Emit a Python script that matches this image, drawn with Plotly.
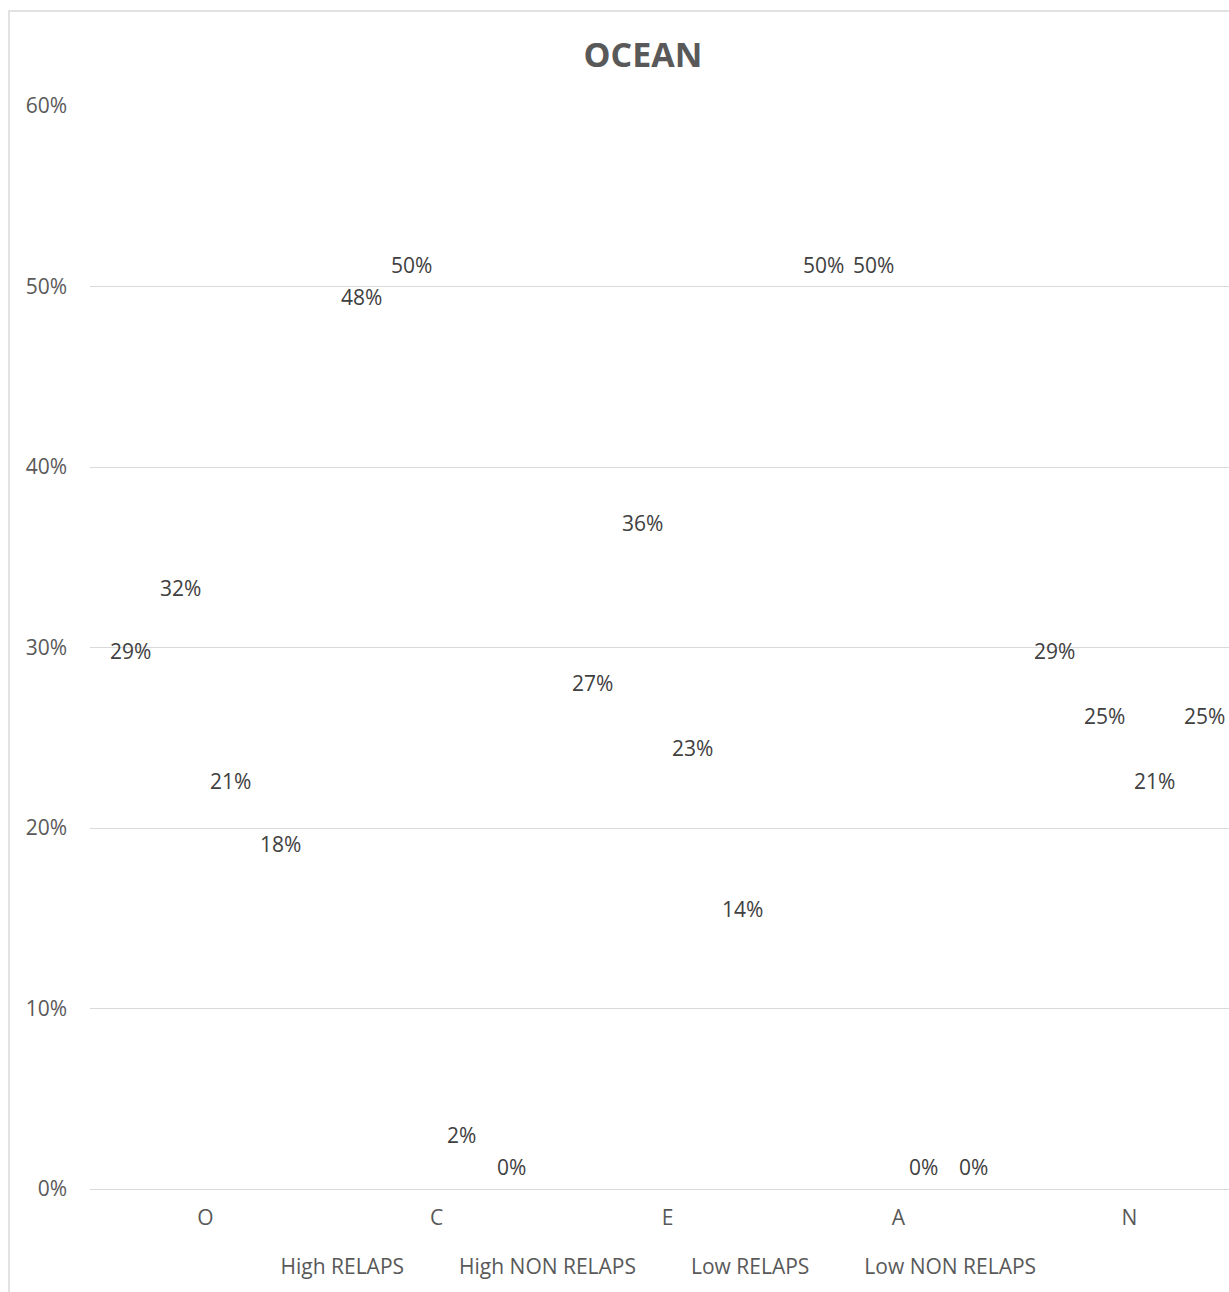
import plotly.graph_objects as go

categories = ["O", "C", "E", "A", "N"]
series_names = ["High RELAPS", "High NON RELAPS", "Low RELAPS", "Low NON RELAPS"]
high_relaps = [0.286, 0.482, 0.268, 0.50, 0.286]
high_non_relaps = [0.321, 0.50, 0.357, 0.50, 0.25]
low_relaps = [0.214, 0.018, 0.232, 0.0, 0.214]
low_non_relaps = [0.179, 0.0, 0.143, 0.0, 0.25]
y_ticks = [0, 0.1, 0.2, 0.3, 0.4, 0.5, 0.6]

series_values = [high_relaps, high_non_relaps, low_relaps, low_non_relaps]

FONT = "Open Sans"
BARGAP = 0.13
n_series = len(series_values)

fig = go.Figure()
annotations = []
for k, (name, vals) in enumerate(zip(series_names, series_values)):
    fig.add_trace(go.Bar(
        x=categories, y=vals, name=name,
        marker=dict(color="rgba(255,255,255,0)", line=dict(width=0)),
        hoverinfo="skip",
    ))
    # data label at the top of each (invisible) bar, like Excel "outside end"
    off = (k - (n_series - 1) / 2) * (1 - BARGAP) / n_series
    for i, v in enumerate(vals):
        annotations.append(dict(
            x=i + off, y=v, xref="x", yref="y",
            text=f"{v:.0%}", showarrow=False,
            xanchor="center", yanchor="middle", yshift=22,
            font=dict(family=FONT, size=21, color="#404040"),
        ))

W, H = 1229, 1292
L, T, B = 90, 106, 103
cat_px = 231.0
plot_w = W - L
x_max = -0.5 + plot_w / cat_px

fig.update_layout(
    width=W, height=H,
    margin=dict(l=L, r=0, t=T, b=B),
    paper_bgcolor="white", plot_bgcolor="white",
    barmode="group", bargap=BARGAP, bargroupgap=0,
    font=dict(family=FONT, size=21, color="#595959"),
    title=dict(text="<b>OCEAN</b>", font=dict(family=FONT, size=34, color="#595959"),
               xref="container", x=643 / W, xanchor="center",
               yref="container", y=1 - 55 / H, yanchor="middle"),
    showlegend=True,
    legend=dict(orientation="h", xref="container", x=636 / W, xanchor="center",
                yref="container", y=1 - 1266 / H, yanchor="middle",
                font=dict(family=FONT, size=21, color="#595959"),
                itemwidth=40, bgcolor="rgba(0,0,0,0)"),
    xaxis=dict(range=[-0.5, x_max], showgrid=False, showline=False, ticks="",
               tickfont=dict(family=FONT, size=21, color="#595959"),
               ticklabelstandoff=14, fixedrange=True),
    yaxis=dict(range=[0, 0.6], tickvals=y_ticks, tickformat=".0%",
               showgrid=True, gridcolor="#d9d9d9", gridwidth=1.3,
               zeroline=True, zerolinecolor="#d9d9d9", zerolinewidth=1.3,
               showline=False, ticks="",
               tickfont=dict(family=FONT, size=21, color="#595959"),
               ticklabelstandoff=22),
    annotations=annotations,
    shapes=[dict(type="rect", xref="paper", yref="paper",
                 x0=(9 - L) / plot_w, x1=1.5,
                 y0=-0.5, y1=1 + (T - 11) / (H - T - B),
                 line=dict(color="#d9d9d9", width=1.5), fillcolor="rgba(0,0,0,0)",
                 layer="below")],
)

fig.write_html("out.html")
